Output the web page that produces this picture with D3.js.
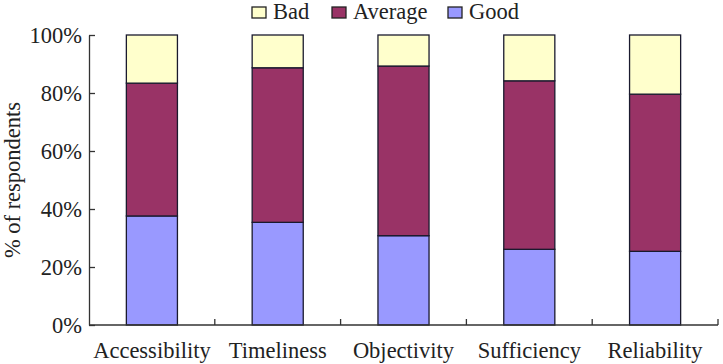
<!DOCTYPE html>
<html>
<head>
<meta charset="utf-8">
<script src="https://cdn.jsdelivr.net/npm/d3@7"></script>
<style>
  body { margin: 0; background: #fff; }
</style>
</head>
<body>
<script>
var categories = ["Accessibility", "Timeliness", "Objectivity", "Sufficiency", "Reliability"];
var seriesNames = ["Good", "Average", "Bad"];
var good    = [37.6, 35.4, 30.8, 26.1, 25.4];
var average = [45.8, 53.3, 58.5, 58.1, 54.2];
var bad     = [16.6, 11.3, 10.7, 15.8, 20.4];
var yTicks = [0, 20, 40, 60, 80, 100];
var colors = {Good: "#9999ff", Average: "#993366", Bad: "#ffffcc"};

var FONT = "'Liberation Serif', 'Times New Roman', Times, serif";
var FS = "22.5px";
var width = 723, height = 364;
var margin = {top: 35, right: 5, bottom: 39, left: 89};

var rows = categories.map((c, i) => ({cat: c, Good: good[i], Average: average[i], Bad: bad[i]}));

var svg = d3.select("body").append("svg")
    .attr("width", width)
    .attr("height", height)
    .style("font-family", FONT);

var x = d3.scaleBand()
    .domain(categories)
    .range([margin.left, width - margin.right])
    .paddingInner(0.594)
    .paddingOuter(0.297);

var y = d3.scaleLinear()
    .domain([0, 100])
    .range([height - margin.bottom, margin.top]);

var stack = d3.stack().keys(seriesNames);
var layers = stack(rows);

svg.append("g")
  .selectAll("g")
  .data(layers)
  .enter().append("g")
    .attr("fill", d => colors[d.key])
  .selectAll("rect")
  .data(d => d)
  .enter().append("rect")
    .attr("x", d => x(d.data.cat))
    .attr("y", d => y(d[1]))
    .attr("width", x.bandwidth())
    .attr("height", d => y(d[0]) - y(d[1]))
    .attr("stroke", "#1a1a2e")
    .attr("stroke-width", 1.3);

// y axis
var yAxis = svg.append("g")
    .attr("transform", `translate(${margin.left},0)`)
    .call(d3.axisLeft(y).tickValues(yTicks).tickFormat(d => d + "%").tickSizeInner(-6).tickSizeOuter(0).tickPadding(7));
yAxis.attr("font-family", null).attr("font-size", null);
yAxis.select(".domain").attr("stroke", "#333").attr("stroke-width", 1.3);
yAxis.selectAll(".tick line").attr("stroke", "#333").attr("stroke-width", 1.3);
yAxis.selectAll("text").style("font-size", FS).style("font-family", FONT).attr("fill", "#222");

// x axis: line with boundary ticks
var xBase = y(0);
var xg = svg.append("g");
xg.append("line")
    .attr("x1", margin.left).attr("x2", width - margin.right)
    .attr("y1", xBase).attr("y2", xBase)
    .attr("stroke", "#333").attr("stroke-width", 1.3);
var step = x.step();
xg.selectAll("line.b")
  .data(categories)
  .enter().append("line")
    .attr("class", "b")
    .attr("x1", d => x(d) + x.bandwidth() / 2 + step / 2)
    .attr("x2", d => x(d) + x.bandwidth() / 2 + step / 2)
    .attr("y1", xBase).attr("y2", xBase - 6)
    .attr("stroke", "#333").attr("stroke-width", 1.3);
xg.selectAll("text")
  .data(categories)
  .enter().append("text")
    .attr("x", d => x(d) + x.bandwidth() / 2)
    .attr("y", xBase + 33)
    .attr("text-anchor", "middle")
    .attr("fill", "#222")
    .style("font-family", FONT)
    .style("font-size", FS)
    .text(d => d);

// y title
svg.append("text")
    .attr("transform", `translate(20,${(margin.top + xBase) / 2}) rotate(-90)`)
    .attr("text-anchor", "middle")
    .attr("fill", "#222")
    .style("font-family", FONT)
    .style("font-size", FS)
    .text("% of respondents");

// legend
var legendItems = [
  {name: "Bad", x: 252},
  {name: "Average", x: 332},
  {name: "Good", x: 448}
];
var lg = svg.append("g");
var li = lg.selectAll("g").data(legendItems).enter().append("g")
    .attr("transform", d => `translate(${d.x},7)`);
li.append("rect")
    .attr("width", 14).attr("height", 11)
    .attr("fill", d => colors[d.name])
    .attr("stroke", "#222").attr("stroke-width", 1.3);
li.append("text")
    .attr("x", 21).attr("y", 12)
    .attr("fill", "#222")
    .style("font-family", FONT)
    .style("font-size", FS)
    .text(d => d.name);
</script>
</body>
</html>
